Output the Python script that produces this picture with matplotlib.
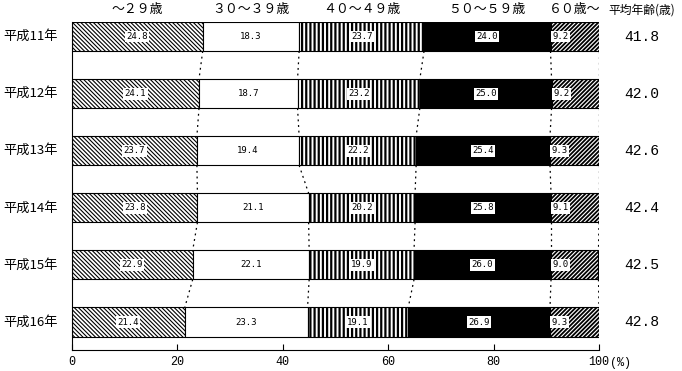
import numpy as np
import matplotlib
matplotlib.use('Agg')
import matplotlib.pyplot as plt

plt.rcParams['font.family'] = ['Noto Sans CJK JP', 'DejaVu Sans']

years = ['平成11年', '平成12年', '平成13年', '平成14年', '平成15年', '平成16年']
age_groups = ['～２９歳', '３０～３９歳', '４０～４９歳', '５０～５９歳', '６０歳～']
under29 = [24.8, 24.1, 23.7, 23.8, 22.9, 21.4]
age30s = [18.3, 18.7, 19.4, 21.1, 22.1, 23.3]
age40s = [23.7, 23.2, 22.2, 20.2, 19.9, 19.1]
age50s = [24.0, 25.0, 25.4, 25.8, 26.0, 26.9]
over60 = [9.2, 9.2, 9.3, 9.1, 9.0, 9.3]
avg_age = ['41.8', '42.0', '42.6', '42.4', '42.5', '42.8']
x_ticks = [0, 20, 40, 60, 80, 100]

series = [under29, age30s, age40s, age50s, over60]
styles = [
    dict(color='white', hatch='\\' * 8, lw_h=0.8),
    dict(color='white', hatch=None, lw_h=0.8),
    dict(color='white', hatch='|' * 4, lw_h=1.6),
    dict(color='black', hatch=None, lw_h=0.8),
    dict(color='white', hatch='/' * 8, lw_h=1.3),
]

fig = plt.figure(figsize=(6.82, 3.71), dpi=100)
ax = fig.add_axes([72 / 682, 1 - 350 / 371, 527 / 682, 328 / 371])

ypos = np.arange(len(years))
bar_h = 0.51
data = np.array(series)
lefts = np.vstack([np.zeros(len(years)), np.cumsum(data, axis=0)[:-1]])

for k, vals in enumerate(series):
    st = styles[k]
    plt.rcParams['hatch.linewidth'] = st['lw_h']
    ax.barh(ypos, vals, left=lefts[k], height=bar_h, color=st['color'],
            edgecolor='black', linewidth=0.8, hatch=st['hatch'], zorder=2)
    for i, v in enumerate(vals):
        if k == 4:
            tx, ha = lefts[k][i] + 0.3, 'left'
        else:
            tx, ha = lefts[k][i] + v / 2, 'center'
        ax.text(tx, ypos[i], f'{v:.1f}', ha=ha, va='center', fontsize=6.5,
                family='DejaVu Sans Mono', color='black', zorder=4,
                bbox=dict(boxstyle='square,pad=0.15', fc='white', ec='none'))

# dotted connectors between the bars
cum = np.cumsum(data, axis=0)
for k in range(len(series)):
    for i in range(len(years) - 1):
        ax.plot([min(cum[k][i], 100), min(cum[k][i + 1], 100)],
                [ypos[i] + bar_h / 2, ypos[i + 1] - bar_h / 2],
                color='black', lw=0.9, linestyle=(0, (1.5, 3)), zorder=1)

ax.set_xlim(0, 100)
ax.set_ylim(5 + 0.49, -bar_h / 2)
ax.spines['top'].set_visible(False)
ax.spines['right'].set_visible(False)
ax.set_yticks([])
ax.set_xticks(x_ticks)
ax.set_xticklabels([str(t) for t in x_ticks], family='Liberation Mono', fontsize=8.5)
ax.tick_params(axis='x', direction='in', length=4, pad=4)
ax.text(102.0, -0.04, '(%)', transform=ax.get_xaxis_transform(), ha='left', va='center',
        fontsize=8.5, family='Liberation Mono')

# headers
for k, name in enumerate(age_groups):
    cx = lefts[k][0] + series[k][0] / 2
    ax.text(cx, 1.037, name, transform=ax.get_xaxis_transform(), ha='center',
            va='center', fontsize=9.3, clip_on=False)
ax.text(1.0816, 1.037, '平均年齢(歳)', transform=ax.transAxes, ha='center',
        va='center', fontsize=8.5)

for i, yr in enumerate(years):
    ax.text(-0.131, ypos[i], yr, transform=ax.get_yaxis_transform(), ha='left',
            va='center', fontsize=9.5)
    ax.text(1.0816, ypos[i], avg_age[i], transform=ax.get_yaxis_transform(),
            ha='center', va='center', fontsize=10.5, family='Liberation Mono')

fig.savefig('out.png', dpi=100)
